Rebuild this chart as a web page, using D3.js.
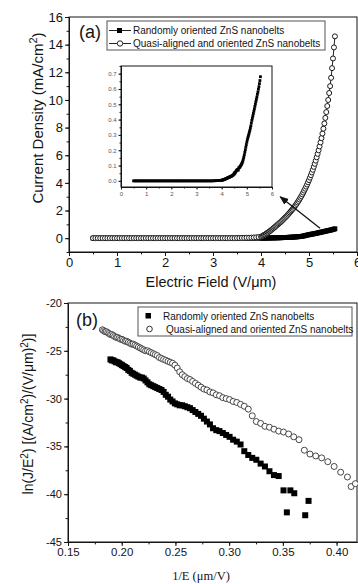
<!DOCTYPE html>
<html>
<head>
<meta charset="utf-8">
<script src="https://cdn.jsdelivr.net/npm/d3@7"></script>
<style>
  body { margin: 0; background: #fff; }
  svg { display: block; }
</style>
</head>
<body>
<svg id="chart" width="358" height="584"></svg>
<script>
// ---- data (panel a: J-E, shared field grid) ----
const fieldE = [
  0.50, 0.55, 0.60, 0.65, 0.70, 0.75, 0.80, 0.85, 0.90, 0.95,
  1.00, 1.05, 1.10, 1.15, 1.20, 1.25, 1.30, 1.35, 1.40, 1.45,
  1.50, 1.55, 1.60, 1.65, 1.70, 1.75, 1.80, 1.85, 1.90, 1.95,
  2.00, 2.05, 2.10, 2.15, 2.20, 2.25, 2.30, 2.35, 2.40, 2.45,
  2.50, 2.55, 2.60, 2.65, 2.70, 2.75, 2.80, 2.85, 2.90, 2.95,
  3.00, 3.05, 3.10, 3.15, 3.20, 3.25, 3.30, 3.35, 3.40, 3.45,
  3.50, 3.55, 3.60, 3.65, 3.70, 3.75, 3.80, 3.85, 3.90, 3.95,
  4.00, 4.02, 4.04, 4.06, 4.08, 4.10, 4.12, 4.14, 4.16, 4.18,
  4.20, 4.22, 4.24, 4.26, 4.28, 4.30, 4.32, 4.34, 4.36, 4.38,
  4.40, 4.42, 4.44, 4.46, 4.48, 4.50, 4.52, 4.54, 4.56, 4.58,
  4.60, 4.62, 4.64, 4.66, 4.68, 4.70, 4.72, 4.74, 4.76, 4.78,
  4.80, 4.82, 4.84, 4.86, 4.88, 4.90, 4.92, 4.94, 4.96, 4.98,
  5.00, 5.02, 5.04, 5.06, 5.08, 5.10, 5.12, 5.14, 5.16, 5.18,
  5.20, 5.22, 5.24, 5.26, 5.28, 5.30, 5.32, 5.34, 5.36, 5.38,
  5.40, 5.42, 5.44, 5.46, 5.48, 5.50, 5.52, 5.54
];

// randomly oriented nanobelts, mA/cm2
const jRandom = [
  0, 0, 0, 0, 0, 0, 0, 0, 0, 0,
  0, 0, 0, 0, 0, 0, 0, 0, 0, 0,
  0, 0, 0, 0, 0, 0, 0, 0, 0, 0,
  0, 0, 0, 0, 0, 0, 0, 0, 0, 0,
  0, 0, 0, 0, 0, 0, 0, 0, 0, 0,
  0, 0, 0, 0, 0, 0, 0, 0, 0, 0,
  0, 0, 0, 0, 0.001, 0.001, 0.002, 0.002, 0.003, 0.003,
  0.004, 0.005, 0.006, 0.007, 0.008, 0.009, 0.010, 0.012, 0.013, 0.015,
  0.016, 0.018, 0.020, 0.021, 0.022, 0.024, 0.026, 0.027, 0.029, 0.030,
  0.032, 0.034, 0.036, 0.040, 0.043, 0.052, 0.046, 0.055, 0.060, 0.065,
  0.070, 0.072, 0.075, 0.070, 0.085, 0.086, 0.090, 0.095, 0.100, 0.106,
  0.113, 0.120, 0.130, 0.142, 0.155, 0.170, 0.186, 0.203, 0.220, 0.237,
  0.253, 0.268, 0.281, 0.293, 0.305, 0.318, 0.330, 0.345, 0.360, 0.378,
  0.395, 0.410, 0.425, 0.440, 0.455, 0.470, 0.486, 0.502, 0.518, 0.533,
  0.548, 0.565, 0.580, 0.598, 0.615, 0.635, 0.655, 0.680
];

// quasi-aligned and oriented nanobelts, mA/cm2
const jAligned = [
  0, 0, 0, 0, 0, 0, 0, 0, 0, 0,
  0, 0, 0, 0, 0, 0, 0, 0, 0, 0,
  0, 0, 0, 0, 0, 0, 0, 0, 0, 0,
  0, 0, 0, 0, 0, 0, 0, 0, 0, 0,
  0, 0, 0, 0, 0, 0, 0, 0, 0, 0,
  0, 0, 0, 0, 0, 0, 0, 0, 0, 0,
  0.01, 0.01, 0.02, 0.02, 0.03, 0.03, 0.04, 0.05, 0.06, 0.08,
  0.10, 0.14, 0.18, 0.22, 0.26, 0.30, 0.35, 0.40, 0.45, 0.50,
  0.55, 0.61, 0.66, 0.72, 0.78, 0.84, 0.90, 0.96, 1.02, 1.08,
  1.14, 1.20, 1.27, 1.34, 1.41, 1.48, 1.55, 1.62, 1.70, 1.78,
  1.86, 1.94, 2.02, 2.10, 2.19, 2.28, 2.38, 2.48, 2.58, 2.69,
  2.80, 2.92, 3.04, 3.17, 3.30, 3.44, 3.58, 3.73, 3.88, 4.04,
  4.20, 4.38, 4.56, 4.75, 4.95, 5.16, 5.38, 5.61, 5.85, 6.10,
  6.36, 6.64, 6.93, 7.24, 7.57, 7.92, 8.30, 8.70, 9.12, 9.56,
  10.0, 10.5, 11.0, 11.6, 12.3, 13.0, 13.8, 14.6
];

// ---- data (panel b: F-N plot, [1/E, ln(J/E^2)]) ----
const fnAligned = [
  [0.182, -22.8], [0.1832, -22.9], [0.1845, -23.0], [0.1857, -23.0], [0.187, -23.1],
  [0.1882, -23.2], [0.1895, -23.3], [0.1908, -23.3], [0.1921, -23.4], [0.1934, -23.5],
  [0.1948, -23.6], [0.1961, -23.6], [0.1975, -23.7], [0.1989, -23.8], [0.2003, -23.8],
  [0.2017, -23.9], [0.2032, -24.0], [0.2046, -24.0], [0.2061, -24.1], [0.2076, -24.2],
  [0.2092, -24.3], [0.2107, -24.3], [0.2123, -24.4], [0.2139, -24.5], [0.2155, -24.6],
  [0.2172, -24.7], [0.2188, -24.8], [0.2205, -24.9], [0.2222, -25.0], [0.224, -25.0],
  [0.2257, -25.1], [0.2275, -25.2], [0.2294, -25.3], [0.2312, -25.4], [0.2331, -25.5],
  [0.235, -25.7], [0.237, -25.8], [0.239, -25.9], [0.241, -26.0], [0.2431, -26.1],
  [0.2452, -26.2], [0.2473, -26.3], [0.2495, -26.5], [0.2517, -26.8], [0.254, -27.2],
  [0.2563, -27.5], [0.2587, -27.7], [0.2611, -27.9], [0.2635, -28.0], [0.266, -28.2],
  [0.2686, -28.4], [0.2712, -28.6], [0.2738, -28.8], [0.2765, -29.0], [0.2793, -29.1],
  [0.2821, -29.3], [0.285, -29.4], [0.288, -29.6], [0.291, -29.7], [0.2941, -29.9],
  [0.2972, -30.0], [0.3004, -30.1], [0.3037, -30.3], [0.3071, -30.4], [0.3106, -30.6],
  [0.3141, -30.8], [0.3178, -31.1], [0.3215, -31.8], [0.3253, -32.4], [0.3293, -32.6],
  [0.3333, -32.9], [0.3375, -33.0], [0.3417, -33.2], [0.3461, -33.4], [0.3506, -33.5],
  [0.3553, -33.7], [0.3601, -34.0], [0.365, -34.3], [0.37, -35.4], [0.3752, -35.8],
  [0.3806, -36.0], [0.3861, -36.2], [0.3918, -36.6], [0.3977, -37.1], [0.4038, -37.7],
  [0.4101, -38.2], [0.4135, -39.2], [0.4175, -38.9]
];

const fnRandom = [
  [0.1895, -25.9], [0.1908, -26.0], [0.1921, -26.0], [0.1934, -26.1], [0.1948, -26.2],
  [0.1961, -26.2], [0.1975, -26.3], [0.1989, -26.4], [0.2003, -26.5], [0.2017, -26.6],
  [0.2032, -26.7], [0.2046, -26.8], [0.2061, -27.0], [0.2076, -27.1], [0.2092, -27.3],
  [0.2107, -27.4], [0.2123, -27.5], [0.2139, -27.6], [0.2155, -27.7], [0.2172, -27.8],
  [0.2188, -27.8], [0.2205, -27.9], [0.2222, -28.1], [0.224, -28.3], [0.2257, -28.5],
  [0.2275, -28.6], [0.2294, -28.7], [0.2312, -28.8], [0.2331, -28.9], [0.235, -29.0],
  [0.237, -29.1], [0.239, -29.3], [0.241, -29.6], [0.2431, -29.8], [0.2452, -30.1],
  [0.2473, -30.3], [0.2495, -30.5], [0.2517, -30.6], [0.254, -30.7], [0.2563, -30.7],
  [0.2587, -30.8], [0.2611, -30.9], [0.2635, -31.0], [0.266, -31.2], [0.2686, -31.4],
  [0.2712, -31.6], [0.2738, -31.8], [0.2765, -32.1], [0.2793, -32.4], [0.2821, -32.7],
  [0.285, -33.1], [0.288, -33.3], [0.291, -33.4], [0.2941, -33.6], [0.2972, -33.8],
  [0.3004, -34.0], [0.3037, -34.3], [0.3071, -34.5], [0.3106, -34.8], [0.3141, -35.5],
  [0.3178, -35.9], [0.3215, -36.2], [0.3253, -36.4], [0.3293, -36.8], [0.3333, -37.1],
  [0.3375, -37.6], [0.3417, -38.0], [0.3461, -38.1], [0.3506, -39.6], [0.3537, -41.9],
  [0.357, -39.6], [0.3606, -39.9], [0.3708, -42.2], [0.3739, -40.7]
];

const seriesNames = ["Randomly oriented ZnS nanobelts", "Quasi-aligned and oriented ZnS nanobelts"];

// ticks
const ticksAx = [0, 1, 2, 3, 4, 5, 6];
const ticksAy = [0, 2, 4, 6, 8, 10, 12, 14, 16];
const ticksInsetY = [0, 0.1, 0.2, 0.3, 0.4, 0.5, 0.6, 0.7];
const ticksBx = [0.15, 0.20, 0.25, 0.30, 0.35, 0.40];
const ticksBy = [-45, -40, -35, -30, -25, -20];

// annotation arrow (data coords of panel a): tail -> head
const arrowPts = [[5.23, 0.72], [4.40, 3.0]];

const FONT = '"Liberation Sans", Arial, Helvetica, sans-serif';
const INK = "#141414";

const svg = d3.select("#chart");

const jeRandom = fieldE.map((e, i) => ({ e, j: jRandom[i] }));
const jeAligned = fieldE.map((e, i) => ({ e, j: jAligned[i] }));

// major + minor ticks, outward
function addAxis(g, axisFn, scale, major, minor, fmt, size, fontSize, pos) {
  const mi = g.append("g").attr("transform", pos)
    .call(axisFn(scale).tickValues(minor).tickSize(size * 0.6).tickSizeOuter(0).tickFormat(""));
  const ma = g.append("g").attr("transform", pos)
    .call(axisFn(scale).tickValues(major).tickSize(size).tickSizeOuter(0).tickPadding(2).tickFormat(fmt));
  ma.selectAll("text").attr("font-size", fontSize).attr("font-family", FONT).attr("fill", INK);
  [mi, ma].forEach((a) => a.selectAll("path, line").attr("stroke", INK));
  return ma;
}

function frame(g, x, y) {
  g.append("rect")
    .attr("x", x.range()[0]).attr("y", y.range()[1])
    .attr("width", x.range()[1] - x.range()[0])
    .attr("height", y.range()[0] - y.range()[1])
    .attr("fill", "none").attr("stroke", INK).attr("stroke-width", 1);
}

// ======== panel (a) ========
const xA = d3.scaleLinear().domain([0, 6]).range([69, 357]);
const yA = d3.scaleLinear().domain([-1, 16]).range([252, 17]);
const gA = svg.append("g");

frame(gA, xA, yA);
addAxis(gA, d3.axisBottom, xA, ticksAx, d3.range(0, 6.01, 0.5), d3.format("d"), 4, 13, `translate(0,${yA.range()[0]})`);
addAxis(gA, d3.axisLeft, yA, ticksAy, d3.range(-1, 16.01, 1), d3.format("d"), 4, 13, `translate(${xA.range()[0]},0)`);

// randomly oriented: line + filled squares
const lineA = d3.line().x((d) => xA(d.e)).y((d) => yA(d.j));
gA.append("path").datum(jeRandom).attr("d", lineA)
  .attr("fill", "none").attr("stroke", "#000").attr("stroke-width", 1);
gA.append("g").selectAll("rect").data(jeRandom).join("rect")
  .attr("x", (d) => xA(d.e) - 2.4).attr("y", (d) => yA(d.j) - 2.4)
  .attr("width", 4.8).attr("height", 4.8).attr("fill", "#000");

// quasi-aligned: line + open circles
gA.append("path").datum(jeAligned).attr("d", lineA)
  .attr("fill", "none").attr("stroke", "#222").attr("stroke-width", 1);
gA.append("g").selectAll("circle").data(jeAligned).join("circle")
  .attr("cx", (d) => xA(d.e)).attr("cy", (d) => yA(d.j)).attr("r", 2.5)
  .attr("fill", "#fff").attr("stroke", "#1a1a1a").attr("stroke-width", 1);

// arrow
svg.append("defs").append("marker")
  .attr("id", "head").attr("viewBox", "0 0 10 10").attr("refX", 9).attr("refY", 5)
  .attr("markerWidth", 7).attr("markerHeight", 7).attr("orient", "auto")
  .append("path").attr("d", "M0,1 L10,5 L0,9 Z").attr("fill", "#111");
gA.append("path")
  .attr("d", d3.line().x((d) => xA(d[0])).y((d) => yA(d[1]))(arrowPts))
  .attr("stroke", "#111").attr("stroke-width", 1.3).attr("marker-end", "url(#head)");

// legend (a)
const legA = gA.append("g");
legA.append("rect").attr("x", 107).attr("y", 21).attr("width", 218).attr("height", 29)
  .attr("fill", "#fff").attr("stroke", "#555").attr("stroke-width", 1);
[0, 1].forEach((i) => {
  const cy = 30.5 + i * 13;
  legA.append("line").attr("x1", 109).attr("x2", 131).attr("y1", cy).attr("y2", cy)
    .attr("stroke", "#222").attr("stroke-width", 1);
  if (i === 0) {
    legA.append("rect").attr("x", 117).attr("y", cy - 2.5).attr("width", 5).attr("height", 5).attr("fill", "#000");
  } else {
    legA.append("circle").attr("cx", 120).attr("cy", cy).attr("r", 2.7)
      .attr("fill", "#fff").attr("stroke", "#222").attr("stroke-width", 1);
  }
  legA.append("text").attr("x", 133).attr("y", cy + 3.6)
    .attr("font-family", FONT).attr("font-size", 10).attr("fill", INK).text(seriesNames[i]);
});

gA.append("text").attr("x", 79).attr("y", 38).attr("font-family", FONT)
  .attr("font-size", 18).attr("fill", INK).text("(a)");

// axis titles (a)
gA.append("text").attr("x", 211).attr("y", 287).attr("text-anchor", "middle")
  .attr("font-family", FONT).attr("font-size", 14.5).attr("fill", INK)
  .text("Electric Field (V/\u03BCm)");
const yTitleA = gA.append("text").attr("transform", "translate(43,118) rotate(-90)")
  .attr("text-anchor", "middle").attr("font-family", FONT).attr("font-size", 15).attr("fill", INK);
yTitleA.append("tspan").text("Current Density (mA/cm");
yTitleA.append("tspan").attr("dy", -6).attr("font-size", 11).text("2");
yTitleA.append("tspan").attr("dy", 6).text(")");

// ======== inset ========
const xI = d3.scaleLinear().domain([0, 6]).range([121, 272]);
const yI = d3.scaleLinear().domain([-0.04, 0.75]).range([187, 66]);
const gI = svg.append("g");
gI.append("rect").attr("x", 121).attr("y", 66).attr("width", 151).attr("height", 121).attr("fill", "#fff");
frame(gI, xI, yI);
const axI1 = addAxis(gI, d3.axisBottom, xI, ticksAx, d3.range(0, 6.01, 0.5), d3.format("d"), 2.5, 6, `translate(0,${yI.range()[0]})`);
const axI2 = addAxis(gI, d3.axisLeft, yI, ticksInsetY, d3.range(0, 0.751, 0.05), d3.format(".1f"), 2.5, 6, `translate(${xI.range()[0]},0)`);
[axI1, axI2].forEach((a) => a.selectAll("text").attr("fill", "#555"));
gI.append("g").selectAll("rect").data(jeRandom).join("rect")
  .attr("x", (d) => xI(d.e) - 1.4).attr("y", (d) => yI(d.j) - 1.4)
  .attr("width", 2.8).attr("height", 2.8).attr("fill", "#000");

// ======== panel (b) ========
const xB = d3.scaleLinear().domain([0.15, 0.419]).range([68, 357]);
const yB = d3.scaleLinear().domain([-45, -20]).range([542, 303]);
const gB = svg.append("g");

frame(gB, xB, yB);
addAxis(gB, d3.axisBottom, xB, ticksBx, d3.range(0.15, 0.419, 0.025), d3.format(".2f"), 4, 11.5, `translate(0,${yB.range()[0]})`);
addAxis(gB, d3.axisLeft, yB, ticksBy, d3.range(-45, -19.9, 2.5), (d) => String(d), 4, 11, `translate(${xB.range()[0]},0)`);

gB.append("g").selectAll("rect").data(fnRandom).join("rect")
  .attr("x", (d) => xB(d[0]) - 3).attr("y", (d) => yB(d[1]) - 3)
  .attr("width", 6).attr("height", 6).attr("fill", "#000");
gB.append("g").selectAll("circle").data(fnAligned).join("circle")
  .attr("cx", (d) => xB(d[0])).attr("cy", (d) => yB(d[1])).attr("r", 3)
  .attr("fill", "#fff").attr("stroke", "#333").attr("stroke-width", 0.9);

// legend (b)
const legB = gB.append("g");
legB.append("rect").attr("x", 138).attr("y", 307).attr("width", 214).attr("height", 29)
  .attr("fill", "#fff").attr("stroke", "#555").attr("stroke-width", 1);
legB.append("rect").attr("x", 145.5).attr("y", 313).attr("width", 5.5).attr("height", 5.5).attr("fill", "#000");
legB.append("circle").attr("cx", 149.5).attr("cy", 329).attr("r", 2.8)
  .attr("fill", "#fff").attr("stroke", "#333").attr("stroke-width", 1);
legB.append("text").attr("x", 163).attr("y", 320).attr("font-family", FONT)
  .attr("font-size", 10).attr("fill", INK).text(seriesNames[0]);
legB.append("text").attr("x", 166).attr("y", 333).attr("font-family", FONT)
  .attr("font-size", 10).attr("fill", INK).text(seriesNames[1]);

gB.append("text").attr("x", 76).attr("y", 326).attr("font-family", FONT)
  .attr("font-size", 18).attr("fill", INK).text("(b)");

// axis titles (b)
gB.append("text").attr("x", 201).attr("y", 580).attr("text-anchor", "middle")
  .attr("font-family", '"Liberation Serif", "Times New Roman", serif')
  .attr("font-size", 12.5).attr("fill", INK).text("1/E (\u03BCm/V)");
const yTitleB = gB.append("text").attr("transform", "translate(33,414) rotate(-90)")
  .attr("text-anchor", "middle").attr("font-family", FONT).attr("font-size", 14).attr("fill", INK);
yTitleB.append("tspan").text("ln(J/E");
yTitleB.append("tspan").attr("dy", -5).attr("font-size", 10).text("2");
yTitleB.append("tspan").attr("dy", 5).text(") [(A/cm");
yTitleB.append("tspan").attr("dy", -5).attr("font-size", 10).text("2");
yTitleB.append("tspan").attr("dy", 5).text(")/(V/\u03BCm)");
yTitleB.append("tspan").attr("dy", -5).attr("font-size", 10).text("2");
yTitleB.append("tspan").attr("dy", 5).text(")]");
</script>
</body>
</html>
